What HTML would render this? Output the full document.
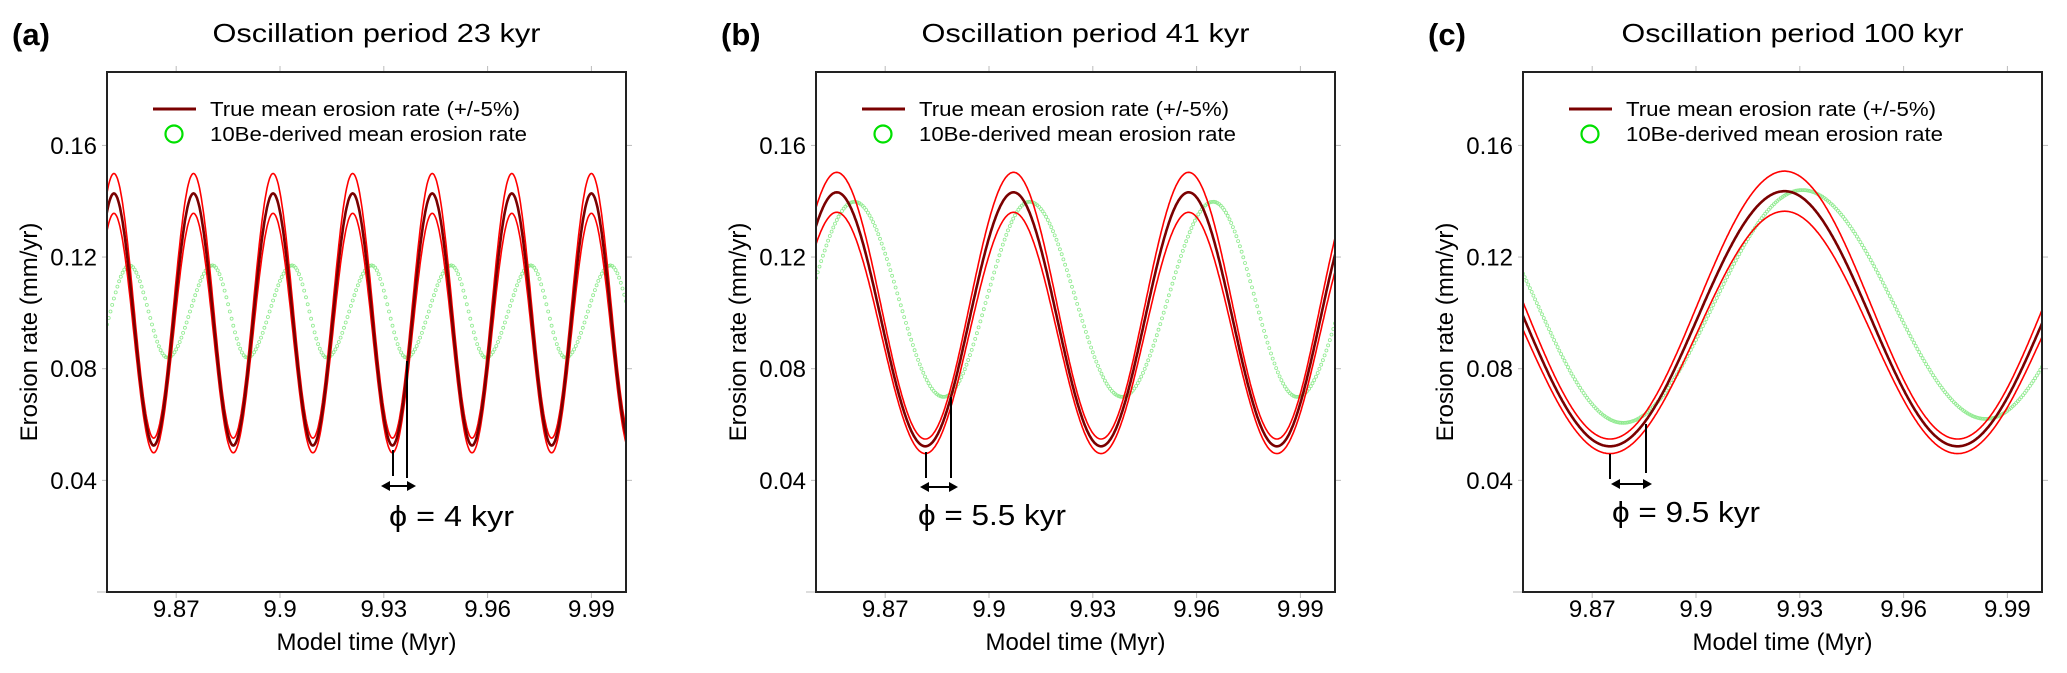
<!DOCTYPE html>
<html><head><meta charset="utf-8"><style>
html,body{margin:0;padding:0;background:#fff;}
svg{display:block;font-family:"Liberation Sans",Arial,sans-serif;}
</style></head><body>
<svg id="fig" width="2067" height="673" viewBox="0 0 2067 673" xmlns="http://www.w3.org/2000/svg"></svg>
<script>
// shared axis data
const xTickValues = [9.87, 9.90, 9.93, 9.96, 9.99];
const xTickLabels = ["9.87", "9.9", "9.93", "9.96", "9.99"];
const yTickValues = [0.04, 0.08, 0.12, 0.16];
const yTickLabels = ["0.04", "0.08", "0.12", "0.16"];
const xDomain = [9.85, 10.0];
const yDomain = [0.0, 0.1863];

// panel (a) 23 kyr: extrema of true mean erosion rate
const aTrueT = [9.8405, 9.852, 9.8635, 9.875, 9.8865, 9.898, 9.9095, 9.921, 9.9325, 9.944, 9.9555, 9.967, 9.9785, 9.990, 10.0015];
const aTrueV = [0.0525, 0.1428, 0.0525, 0.1428, 0.0525, 0.1428, 0.0525, 0.1428, 0.0525, 0.1428, 0.0525, 0.1428, 0.0525, 0.1428, 0.0525];
// panel (a) 10Be-derived extrema
const aBeT = [9.8455, 9.8565, 9.8675, 9.8805, 9.8905, 9.9035, 9.9135, 9.9265, 9.9365, 9.9495, 9.9595, 9.9725, 9.9825, 9.9955, 10.006];
const aBeV = [0.084, 0.117, 0.084, 0.117, 0.084, 0.117, 0.084, 0.117, 0.084, 0.117, 0.084, 0.117, 0.084, 0.117, 0.084];

// panel (b) 41 kyr
const bTrueT = [9.8307, 9.856, 9.8816, 9.9071, 9.9324, 9.9577, 9.9832, 10.0083];
const bTrueV = [0.0522, 0.1432, 0.0522, 0.1432, 0.0522, 0.1432, 0.0522, 0.1432];
const bBeT = [9.8353, 9.8611, 9.8869, 9.9117, 9.9385, 9.9648, 9.9891, 10.015];
const bBeV = [0.070, 0.1398, 0.0699, 0.1398, 0.0699, 0.1398, 0.0699, 0.1398];

// panel (c) 100 kyr
const cTrueT = [9.8256, 9.8751, 9.9256, 9.9756, 10.0256];
const cTrueV = [0.1436, 0.0522, 0.1436, 0.0522, 0.1436];
const cBeT = [9.830, 9.8789, 9.9307, 9.9838, 10.035];
const cBeV = [0.144, 0.0606, 0.144, 0.062, 0.144];

const panels = [
  {id:"a", label:"(a)", title:"Oscillation period 23 kyr", left:107, trueT:aTrueT, trueV:aTrueV, beT:aBeT, beV:aBeV,
   ann:{l1:[393,450,476], l2:[407,361,478], arrow:[381,416,486], tx:389, ty:516, text:"ϕ = 4 kyr", tw:125}},
  {id:"b", label:"(b)", title:"Oscillation period 41 kyr", left:816, trueT:bTrueT, trueV:bTrueV, beT:bBeT, beV:bBeV,
   ann:{l1:[926,452,478], l2:[951,397,478], arrow:[920,958,487], tx:918, ty:515, text:"ϕ = 5.5 kyr", tw:148}},
  {id:"c", label:"(c)", title:"Oscillation period 100 kyr", left:1523, trueT:cTrueT, trueV:cTrueV, beT:cBeT, beV:cBeV,
   ann:{l1:[1610,454,479], l2:[1646,424,473], arrow:[1611,1652,484], tx:1612, ty:512, text:"ϕ = 9.5 kyr", tw:148}}
];

const NS = "http://www.w3.org/2000/svg";
const svg = document.getElementById("fig");
const TOP = 72, BOTTOM = 592, W = 519;

function mk(tag, attrs, parent){
  const e = document.createElementNS(NS, tag);
  for (const k in attrs) e.setAttribute(k, attrs[k]);
  (parent||svg).appendChild(e);
  return e;
}
function interp(T, V, t){
  if (t <= T[0]) return V[0];
  for (let i=0;i<T.length-1;i++){
    if (t >= T[i] && t <= T[i+1]){
      const f = (t - T[i])/(T[i+1]-T[i]);
      return V[i] + (V[i+1]-V[i])*(1-Math.cos(Math.PI*f))/2;
    }
  }
  return V[V.length-1];
}

panels.forEach(p => {
  const L = p.left, R = L + W;
  const xs = t => L + (t - xDomain[0])/(xDomain[1]-xDomain[0])*W;
  const ys = v => BOTTOM - (v - yDomain[0])/(yDomain[1]-yDomain[0])*(BOTTOM-TOP);
  const g = mk("g", {});
  
  

  const lab = mk("text", {x:L-95, y:45, "font-size":31, "font-weight":"bold", fill:"#000"}, g);
  lab.textContent = p.label;
  
  

  const ti = mk("text", {x:L+W/2 + 10, y:42, "font-size":26, "text-anchor":"middle", fill:"#000", textLength: p.id==="c"?342:328, lengthAdjust:"spacingAndGlyphs"}, g);
  ti.textContent = p.title;
  
  

  xTickValues.forEach((v,i) => {
    const x = xs(v);
    const t1 = mk("line", {x1:x, x2:x, y1:BOTTOM, y2:BOTTOM+6, stroke:"#bbb", "stroke-width":1}, g);
    
    
    const t2 = mk("line", {x1:x, x2:x, y1:TOP, y2:TOP-6, stroke:"#bbb", "stroke-width":1}, g);
    
    
    const tl = mk("text", {x:x, y:617, "font-size":24, "text-anchor":"middle", fill:"#000"}, g);
    tl.textContent = xTickLabels[i];
    
    
  });
  yTickValues.forEach((v,i) => {
    const y = ys(v);
    const t1 = mk("line", {x1:L-5, x2:L, y1:y, y2:y, stroke:"#bbb", "stroke-width":1}, g);
    
    
    const t2 = mk("line", {x1:R, x2:R+6, y1:y, y2:y, stroke:"#bbb", "stroke-width":1}, g);
    
    
    const tl = mk("text", {x:L-10, y:y+8.5, "font-size":24, "text-anchor":"end", fill:"#000"}, g);
    tl.textContent = yTickLabels[i];
    
    
  });
  const bl = mk("line", {x1:L-10, x2:L, y1:BOTTOM, y2:BOTTOM, stroke:"#bbb"}, g);
  
  

  const xt = mk("text", {x:L+W/2, y:650, "font-size":24, "text-anchor":"middle", fill:"#000"}, g);
  xt.textContent = "Model time (Myr)";
  
  
  const yt = mk("text", {x:0, y:0, "font-size":24, "text-anchor":"middle", fill:"#000", transform:`translate(${L-70},332) rotate(-90)`}, g);
  yt.textContent = "Erosion rate (mm/yr)";
  
  

  const cp = mk("clipPath", {id:"clip-"+p.id}, g);
  mk("rect", {x:L, y:TOP, width:W, height:BOTTOM-TOP}, cp);
  const plot = mk("g", {"clip-path":`url(#clip-${p.id})`}, g);
  
  

  const dots = mk("g", {fill:"none", stroke:"#8eea8e", "stroke-width":0.8}, plot);
  
  
  for (let t = xDomain[0]; t <= xDomain[1]+1e-9; t += 0.0005){
    const c = mk("circle", {cx:xs(t).toFixed(1), cy:ys(interp(p.beT,p.beV,t)).toFixed(1), r:1.5}, dots);
    
    
  }

  const mkPath = (scale) => {
    let d = "";
    for (let t = xDomain[0]-0.001; t <= xDomain[1]+0.001; t += 0.00025){
      d += (d?"L":"M") + xs(t).toFixed(1) + "," + ys(interp(p.trueT,p.trueV,t)*scale).toFixed(1);
    }
    return d;
  };
  const up = mk("path", {d:mkPath(1.05), fill:"none", stroke:"#ff0000", "stroke-width":1.6}, plot);
  
  
  const lo = mk("path", {d:mkPath(0.95), fill:"none", stroke:"#ff0000", "stroke-width":1.6}, plot);
  
  
  const mid = mk("path", {d:mkPath(1.0), fill:"none", stroke:"#7a0000", "stroke-width":2.6}, plot);
  
  

  const fr = mk("rect", {x:L, y:TOP, width:W, height:BOTTOM-TOP, fill:"none", stroke:"#222", "stroke-width":2}, g);
  
  

  const lg = mk("g", {}, g);
  
  
  const ll = mk("line", {x1:L+46, x2:L+89, y1:109, y2:109, stroke:"#7a0000", "stroke-width":3}, lg);
  
  
  const lt1 = mk("text", {x:L+103, y:116, "font-size":20, fill:"#000", textLength:310, lengthAdjust:"spacingAndGlyphs"}, lg);
  lt1.textContent = "True mean erosion rate (+/-5%)";
  
  
  const lc = mk("circle", {cx:L+67, cy:134, r:8.5, fill:"none", stroke:"#00e000", "stroke-width":2.2}, lg);
  
  
  const lt2 = mk("text", {x:L+103, y:141, "font-size":20, fill:"#000", textLength:317, lengthAdjust:"spacingAndGlyphs"}, lg);
  lt2.textContent = "10Be-derived mean erosion rate";
  
  

  const a = p.ann;
  const an = mk("g", {stroke:"#000", "stroke-width":2}, g);
  
  
  mk("line", {x1:a.l1[0], x2:a.l1[0], y1:a.l1[1], y2:a.l1[2]}, an);
  mk("line", {x1:a.l2[0], x2:a.l2[0], y1:a.l2[1], y2:a.l2[2]}, an);
  mk("line", {x1:a.arrow[0]+6, x2:a.arrow[1]-6, y1:a.arrow[2], y2:a.arrow[2]}, an);
  mk("path", {d:`M${a.arrow[0]},${a.arrow[2]} l9,-5 l0,10 z`, fill:"#000", stroke:"none"}, an);
  mk("path", {d:`M${a.arrow[1]},${a.arrow[2]} l-9,-5 l0,10 z`, fill:"#000", stroke:"none"}, an);
  const at = mk("text", {x:a.tx, y:a.ty+10, "font-size":29, fill:"#000", textLength:a.tw, lengthAdjust:"spacingAndGlyphs"}, g);
  at.textContent = a.text;
  
  
});
</script>
</body></html>
